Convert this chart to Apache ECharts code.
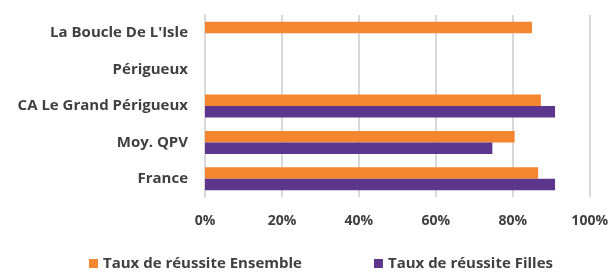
<!DOCTYPE html>
<html>
<head>
<meta charset="utf-8">
<script src="https://cdn.jsdelivr.net/npm/echarts@6/dist/echarts.min.js"></script>
<style>
    html, body { margin: 0; padding: 0; background: #fff; }
    #chart { width: 611px; height: 274px; }
</style>
</head>
<body>
<div id="chart"></div>
<script>
    // données (en %)
    var categories = ['La Boucle De L\'Isle', 'Périgueux', 'CA Le Grand Périgueux', 'Moy. QPV', 'France'];
    var seriesNames = ['Taux de réussite Ensemble', 'Taux de réussite Filles'];
    var ensemble = [85.0, null, 87.3, 80.5, 86.6];
    var filles = [null, null, 91.0, 74.7, 91.0];
    var xTicks = [0, 20, 40, 60, 80, 100];

    var textColor = '#404040';
    var fontFam = '"Open Sans", sans-serif';

    var myChart = echarts.init(document.getElementById('chart'));
    var option = {
        animation: false,
        grid: { left: 205, right: 21, top: 15, bottom: 77, containLabel: false },
        legend: {
            bottom: -2,
            left: 84,
            icon: 'rect',
            itemWidth: 9,
            itemHeight: 9,
            itemGap: 72,
            textStyle: { color: textColor, fontSize: 15, fontWeight: 'bold', fontFamily: fontFam },
            data: seriesNames
        },
        xAxis: {
            type: 'value',
            min: xTicks[0],
            max: xTicks[xTicks.length - 1],
            interval: 20,
            axisLine: { show: false },
            axisTick: { show: false },
            splitLine: { lineStyle: { color: '#d9d9d9', width: 2 } },
            axisLabel: {
                color: textColor, fontSize: 14, fontWeight: 'bold', fontFamily: fontFam,
                margin: 17,
                formatter: '{value}%'
            }
        },
        yAxis: {
            type: 'category',
            inverse: true,
            data: categories,
            axisLine: { show: true, lineStyle: { color: '#d9d9d9', width: 2 } },
            axisTick: { show: false },
            axisLabel: { color: textColor, fontSize: 15, fontWeight: 'bold', fontFamily: fontFam, margin: 17 }
        },
        series: [
            {
                name: seriesNames[0],
                type: 'bar',
                data: ensemble,
                barWidth: 11.5,
                barGap: '0%',
                itemStyle: { color: '#F4862F' }
            },
            {
                name: seriesNames[1],
                type: 'bar',
                data: filles,
                barWidth: 11.5,
                barGap: '0%',
                itemStyle: { color: '#5C358C' }
            }
        ]
    };
    myChart.setOption(option);
</script>
</body>
</html>
